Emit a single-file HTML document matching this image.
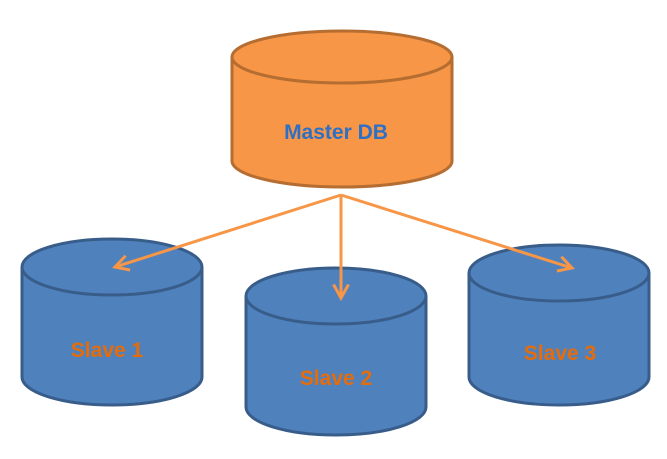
<!DOCTYPE html>
<html><head><style>html,body{margin:0;padding:0;background:#fff;}</style></head>
<body>
<svg width="667" height="454" viewBox="0 0 667 454" xmlns="http://www.w3.org/2000/svg">
<defs>
<marker id="a" viewBox="0 0 12 12" refX="10" refY="6" markerWidth="6" markerHeight="6" orient="auto" markerUnits="strokeWidth">
<path d="M1,1 L10,6 L1,11" fill="none" stroke="#f79646" stroke-width="2"/>
</marker>
</defs>
<g stroke-width="3">
<!-- Master -->
<path d="M232,57 V161 A110,26 0 0 0 452,161 V57" fill="#f79646" stroke="#b66d31"/>
<ellipse cx="342" cy="57" rx="110" ry="26" fill="#f79646" stroke="#b66d31"/>
<!-- Slave1 -->
<path d="M22,267 V377 A90,28 0 0 0 202,377 V267" fill="#4f81bd" stroke="#385d8a"/>
<ellipse cx="112" cy="267" rx="90" ry="28" fill="#4f81bd" stroke="#385d8a"/>
<!-- Slave2 -->
<path d="M246,296 V407 A90,28 0 0 0 426,407 V296" fill="#4f81bd" stroke="#385d8a"/>
<ellipse cx="336" cy="296" rx="90" ry="28" fill="#4f81bd" stroke="#385d8a"/>
<!-- Slave3 -->
<path d="M469,273 V377 A90,28 0 0 0 649,377 V273" fill="#4f81bd" stroke="#385d8a"/>
<ellipse cx="559" cy="273" rx="90" ry="28" fill="#4f81bd" stroke="#385d8a"/>
</g>
<g stroke="#f79646" stroke-width="3" fill="none">
<line x1="341" y1="195" x2="115" y2="267" marker-end="url(#a)"/>
<line x1="341" y1="195" x2="341" y2="298" marker-end="url(#a)"/>
<line x1="341" y1="195" x2="572" y2="268" marker-end="url(#a)"/>
</g>
<g font-family="Liberation Sans, sans-serif" font-weight="bold" font-size="21" text-anchor="middle">
<text x="336" y="139" fill="#2f6fc4">Master DB</text>
<text x="107" y="357" fill="#e46c0a">Slave 1</text>
<text x="336" y="385" fill="#e46c0a">Slave 2</text>
<text x="560" y="360" fill="#e46c0a">Slave 3</text>
</g>
</svg>
</body></html>
